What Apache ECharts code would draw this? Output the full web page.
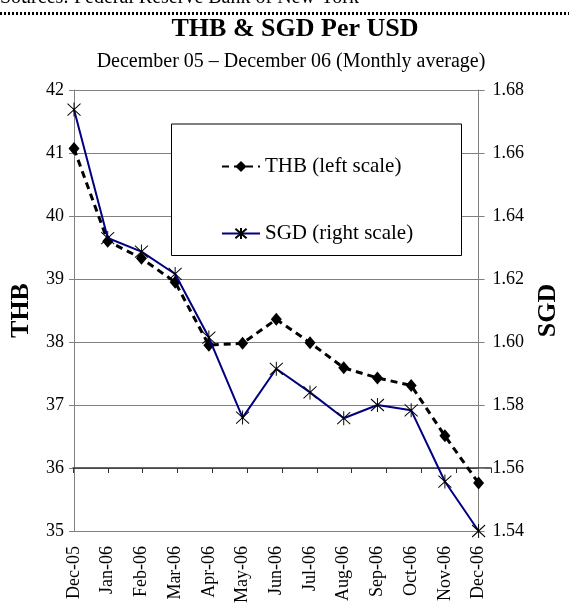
<!DOCTYPE html>
<html>
<head>
<meta charset="utf-8">
<script src="https://cdn.jsdelivr.net/npm/echarts@6/dist/echarts.min.js"></script>
<style>
  html, body { margin: 0; padding: 0; background: #fff; }
  #main { width: 569px; height: 608px; }
</style>
</head>
<body>
<div id="main"></div>
<script>
// monthly average, Dec 05 - Dec 06
var months = ["Dec-05", "Jan-06", "Feb-06", "Mar-06", "Apr-06", "May-06", "Jun-06",
  "Jul-06", "Aug-06", "Sep-06", "Oct-06", "Nov-06", "Dec-06"];
var thb = [41.07, 39.60, 39.33, 38.95, 37.95, 37.98, 38.36, 37.99, 37.59, 37.43, 37.31, 36.51, 35.76];
var sgd = [1.6738, 1.6330, 1.6287, 1.6216, 1.6014, 1.5760, 1.5915, 1.5840, 1.5758, 1.5800, 1.5783, 1.5557, 1.5400];
var thbTicks = { min: 35, max: 42, step: 1 };
var sgdTicks = { min: 1.54, max: 1.68, step: 0.02 };

var serif = "Liberation Serif";
var grey = "#808080";

var myChart = echarts.init(document.getElementById("main"));
myChart.setOption({
  animation: false,
  textStyle: { fontFamily: serif, color: "#000" },
  title: [
    {
      text: "THB & SGD Per USD",
      left: 295, top: 16, textAlign: "center", padding: 0,
      textStyle: { fontFamily: serif, fontSize: 26, fontWeight: "bold", color: "#000" }
    },
    {
      text: "December 05 \u2013 December 06 (Monthly average)",
      left: 291, top: 52, textAlign: "center", padding: 0,
      textStyle: { fontFamily: serif, fontSize: 20, fontWeight: "normal", color: "#000" }
    }
  ],
  graphic: [
    {
      type: "text", left: 0, top: -12, z: 5,
      style: { text: "Sources: Federal Reserve Bank of New York", font: "20px 'Liberation Serif'", fill: "#000" }
    },
    {
      type: "line", z: 5,
      shape: { x1: 0, y1: 13.5, x2: 569, y2: 13.5 },
      style: { stroke: "#000", lineWidth: 3, lineDash: [2, 2] }
    },
    {
      // legend box
      type: "rect", z: 1,
      shape: { x: 171.5, y: 124, width: 290, height: 131.5 },
      style: { fill: "#fff", stroke: "#000", lineWidth: 1 }
    }
  ],
  legend: {
    orient: "vertical",
    left: 221, top: 156,
    itemWidth: 38, itemHeight: 14, itemGap: 46,
    padding: 0,
    textStyle: { fontFamily: serif, fontSize: 21, color: "#000" },
    data: ["THB (left scale)", "SGD (right scale)"]
  },
  grid: [
    { left: 73, right: 78, top: 90, bottom: 77 },
    // second grid only to draw the category axis crossing at 36
    { left: 73, right: 78, top: 90, bottom: 140 }
  ],
  xAxis: [
    {
      type: "category", gridIndex: 0, data: months, boundaryGap: false,
      axisLine: { lineStyle: { color: grey, width: 1 } },
      axisTick: { show: false },
      axisLabel: { rotate: 90, margin: 15, fontSize: 18, color: "#000", fontFamily: serif, interval: 0 }
    },
    {
      type: "category", gridIndex: 1, data: months, boundaryGap: false,
      axisLine: { lineStyle: { color: "#333", width: 1.5 } },
      axisTick: { show: true, length: 5, interval: 0, lineStyle: { color: "#333" } },
      axisLabel: { show: false }
    }
  ],
  yAxis: [
    {
      type: "value", gridIndex: 0, position: "left",
      min: thbTicks.min, max: thbTicks.max, interval: thbTicks.step,
      name: "THB", nameLocation: "middle", nameGap: 40, nameRotate: 90,
      nameTextStyle: { fontFamily: serif, fontSize: 26, fontWeight: "bold", color: "#000" },
      axisLine: { show: true, lineStyle: { color: grey } },
      axisTick: { show: true, length: 5, lineStyle: { color: grey } },
      axisLabel: { margin: 10, fontSize: 18, color: "#000", fontFamily: serif },
      splitLine: { show: true, lineStyle: { color: grey, width: 1 } }
    },
    {
      type: "value", gridIndex: 0, position: "right",
      min: sgdTicks.min, max: sgdTicks.max, interval: sgdTicks.step,
      name: "SGD", nameLocation: "middle", nameGap: 47, nameRotate: 90,
      nameTextStyle: { fontFamily: serif, fontSize: 26, fontWeight: "bold", color: "#000" },
      axisLine: { show: true, lineStyle: { color: grey } },
      axisTick: { show: true, length: 6, lineStyle: { color: grey } },
      axisLabel: {
        margin: 14, fontSize: 18, color: "#000", fontFamily: serif,
        formatter: function (v) { return v.toFixed(2); }
      },
      splitLine: { show: false }
    },
    {
      type: "value", gridIndex: 1, min: 36, max: 42, show: false
    }
  ],
  series: [
    {
      name: "THB (left scale)",
      type: "line",
      xAxisIndex: 0, yAxisIndex: 0,
      data: thb,
      symbol: "diamond",
      symbolSize: [11, 13],
      itemStyle: { color: "#000" },
      lineStyle: { color: "#000", width: 3, type: [7, 5] },
      z: 3
    },
    {
      name: "SGD (right scale)",
      type: "line",
      xAxisIndex: 0, yAxisIndex: 1,
      data: sgd,
      symbol: "path://M0,1L12,13M12,1L0,13M6,0L6,14",
      symbolSize: [13, 14],
      itemStyle: { color: "transparent", borderColor: "#000", borderWidth: 1 },
      lineStyle: { color: "#000080", width: 2, type: "solid" },
      z: 4
    }
  ]
});
</script>
</body>
</html>
